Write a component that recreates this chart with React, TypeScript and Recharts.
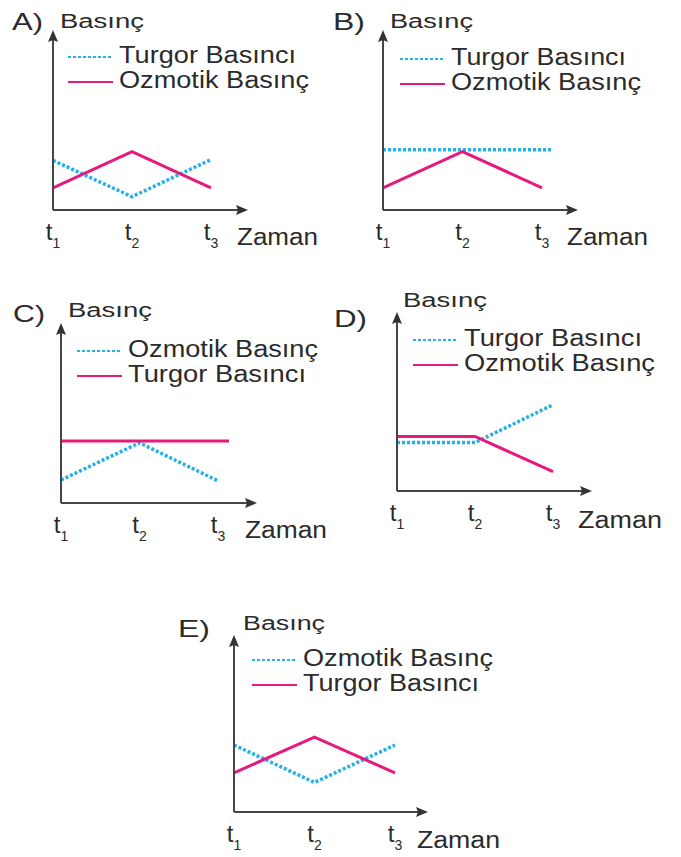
import { LineChart, Line, XAxis, YAxis, Legend } from 'recharts'

const tickValues = [1, 2, 3]
const tickSubs = ['1', '2', '3']

const TURGOR = 'Turgor Basıncı'
const OZMOTIK = 'Ozmotik Basınç'

// A
const aDottedT = [1, 2, 3]
const aDotted = [2.8, 0.75, 2.85]
const aSolidT = [1, 2, 3]
const aSolid = [1.25, 3.3, 1.25]

// B
const bDottedT = [1, 3.13]
const bDotted = [3.4, 3.4]
const bSolidT = [1, 2, 3]
const bSolid = [1.25, 3.3, 1.25]

// C
const cDottedT = [1, 2, 3]
const cDotted = [1.3, 3.4, 1.25]
const cSolidT = [1, 3.14]
const cSolid = [3.5, 3.5]

// D
const dDottedT = [1, 2, 3]
const dDotted = [2.75, 2.75, 4.9]
const dSolidT = [1, 2, 3]
const dSolid = [3.1, 3.1, 1.1]

// E
const eDottedT = [1, 2, 3]
const eDotted = [3.85, 1.7, 3.85]
const eSolidT = [1, 2, 3]
const eSolid = [2.25, 4.3, 2.25]

const BLUE = '#25b1e7'
const PINK = '#e6197d'
const AXIS = '#454545'
const TEXT = '#2b2b2b'
const FONT = "'Liberation Sans', Arial, Helvetica, sans-serif"

const zip = (t: number[], v: number[]) => t.map((x, i) => ({ x, y: v[i] }))

type Txt = { x: number; y: number; len: number }

type PanelCfg = {
  id: string
  box: { left: number; top: number; width: number; height: number }
  ox: number
  oy: number
  xTip: number
  yTip: number
  step: number
  letter: Txt
  basinc: Txt
  legend: { x: number; y: number; lens: number[] }
  zaman: Txt
  dotted: { name: string; data: { x: number; y: number }[] }
  solid: { name: string; data: { x: number; y: number }[] }
}

const panels: PanelCfg[] = [
  {
    id: 'A',
    box: { left: 0, top: 0, width: 330, height: 260 },
    ox: 53, oy: 210, xTip: 248, yTip: 30, step: 79,
    letter: { x: 12, y: 30, len: 31 },
    basinc: { x: 60, y: 28, len: 84 },
    legend: { x: 68, y: 57, lens: [177, 190] },
    zaman: { x: 237, y: 245, len: 81 },
    dotted: { name: TURGOR, data: zip(aDottedT, aDotted) },
    solid: { name: OZMOTIK, data: zip(aSolidT, aSolid) },
  },
  {
    id: 'B',
    box: { left: 330, top: 0, width: 351, height: 260 },
    ox: 383, oy: 210, xTip: 578, yTip: 30, step: 79.5,
    letter: { x: 333, y: 30, len: 32 },
    basinc: { x: 390, y: 28, len: 83 },
    legend: { x: 400, y: 59, lens: [175, 190] },
    zaman: { x: 567, y: 245, len: 81 },
    dotted: { name: TURGOR, data: zip(bDottedT, bDotted) },
    solid: { name: OZMOTIK, data: zip(bSolidT, bSolid) },
  },
  {
    id: 'C',
    box: { left: 0, top: 280, width: 330, height: 280 },
    ox: 61, oy: 503, xTip: 257, yTip: 323, step: 78.5,
    letter: { x: 13, y: 322, len: 32 },
    basinc: { x: 68, y: 317, len: 84 },
    legend: { x: 77, y: 351, lens: [190, 178] },
    zaman: { x: 245, y: 538, len: 82 },
    dotted: { name: OZMOTIK, data: zip(cDottedT, cDotted) },
    solid: { name: TURGOR, data: zip(cSolidT, cSolid) },
  },
  {
    id: 'D',
    box: { left: 330, top: 280, width: 351, height: 280 },
    ox: 397, oy: 491, xTip: 592, yTip: 312, step: 78,
    letter: { x: 334, y: 327, len: 33 },
    basinc: { x: 403, y: 307, len: 84 },
    legend: { x: 413, y: 340, lens: [178, 191] },
    zaman: { x: 578, y: 528, len: 84 },
    dotted: { name: TURGOR, data: zip(dDottedT, dDotted) },
    solid: { name: OZMOTIK, data: zip(dSolidT, dSolid) },
  },
  {
    id: 'E',
    box: { left: 160, top: 590, width: 360, height: 267 },
    ox: 234, oy: 812, xTip: 428, yTip: 635, step: 80.5,
    letter: { x: 178, y: 637, len: 32 },
    basinc: { x: 243, y: 630, len: 82 },
    legend: { x: 252, y: 660, lens: [190, 176] },
    zaman: { x: 417, y: 848, len: 83 },
    dotted: { name: OZMOTIK, data: zip(eDottedT, eDotted) },
    solid: { name: TURGOR, data: zip(eSolidT, eSolid) },
  },
]

const TimeTick = (props: any) => {
  const { x, y, payload } = props
  const i = tickValues.indexOf(payload.value)
  return (
    <text x={x} y={y + 30} textAnchor='middle' fill={TEXT} fontFamily={FONT} fontSize={24}>
      <tspan>t</tspan>
      <tspan fontSize={14} dy={8}>{tickSubs[i]}</tspan>
    </text>
  )
}

function Panel({ p }: { p: PanelCfg }) {
  const { box } = p
  // axes get 1px boxes (a 0-size axis is not drawn), so the margins give that pixel back
  const margin = {
    left: p.ox - box.left - 1,
    top: p.yTip + 3 - box.top,
    right: box.left + box.width - (p.xTip - 3),
    bottom: box.top + box.height - p.oy - 1,
  }
  const xMax = 1 + (p.xTip - 3 - p.ox) / p.step
  const marker = `arrow-${p.id}`
  const lx = (x: number) => x - box.left
  const ly = (y: number) => y - box.top
  const textProps = { fill: TEXT, fontFamily: FONT, lengthAdjust: 'spacingAndGlyphs' as const }

  const legendContent = () => (
    <svg width={260} height={56} style={{ display: 'block' }}>
      {[p.dotted, p.solid].map((s, i) => (
        <g key={s.name}>
          <line
            x1={0}
            x2={45}
            y1={15 + i * 25}
            y2={15 + i * 25}
            stroke={i === 0 ? BLUE : PINK}
            strokeWidth={2}
            strokeDasharray={i === 0 ? '3 2' : undefined}
          />
          <text x={51} y={21 + i * 25} fontSize={23} textLength={p.legend.lens[i]} {...textProps}>
            {s.name}
          </text>
        </g>
      ))}
    </svg>
  )

  return (
    <div style={{ position: 'absolute', left: box.left, top: box.top, width: box.width, height: box.height }}>
      <LineChart width={box.width} height={box.height} margin={margin}>
        <defs>
          <marker
            id={marker}
            viewBox='0 0 12 10'
            refX={9}
            refY={5}
            markerWidth={12}
            markerHeight={10}
            markerUnits='userSpaceOnUse'
            orient='auto-start-reverse'
          >
            <path d='M0,0 L12,5 L0,10 L2,5 z' fill='#333' />
          </marker>
        </defs>
        <XAxis
          dataKey='x'
          type='number'
          domain={[1, xMax]}
          allowDataOverflow
          ticks={tickValues}
          interval={0}
          height={1}
          tickSize={0}
          tickMargin={0}
          tickLine={false}
          tick={<TimeTick />}
          axisLine={{ stroke: AXIS, strokeWidth: 2, markerEnd: `url(#${marker})` }}
        />
        <YAxis
          dataKey='y'
          type='number'
          domain={[0, 10]}
          allowDataOverflow
          width={1}
          tick={false}
          tickLine={false}
          axisLine={{ stroke: AXIS, strokeWidth: 2, markerStart: `url(#${marker})` }}
        />
        <Legend
          layout='vertical'
          align='center'
          verticalAlign='middle'
          content={legendContent}
          wrapperStyle={{ left: lx(p.legend.x), top: ly(p.legend.y) - 15, width: 260, height: 56 }}
        />
        <Line
          data={p.dotted.data}
          dataKey='y'
          name={p.dotted.name}
          stroke={BLUE}
          strokeWidth={3.5}
          strokeDasharray='3 2'
          dot={false}
          activeDot={false}
          isAnimationActive={false}
        />
        <Line
          data={p.solid.data}
          dataKey='y'
          name={p.solid.name}
          stroke={PINK}
          strokeWidth={3}
          dot={false}
          activeDot={false}
          isAnimationActive={false}
        />
        <text x={lx(p.letter.x)} y={ly(p.letter.y)} fontSize={24} textLength={p.letter.len} {...textProps}>
          {p.id})
        </text>
        <text x={lx(p.basinc.x)} y={ly(p.basinc.y)} fontSize={20} textLength={p.basinc.len} {...textProps}>
          Basınç
        </text>
        <text x={lx(p.zaman.x)} y={ly(p.zaman.y)} fontSize={23} textLength={p.zaman.len} {...textProps}>
          Zaman
        </text>
      </LineChart>
    </div>
  )
}

export default function App() {
  return (
    <div style={{ position: 'absolute', left: 0, top: 0, width: 681, height: 857, background: '#fff' }}>
      {panels.map((p) => (
        <Panel key={p.id} p={p} />
      ))}
    </div>
  )
}
